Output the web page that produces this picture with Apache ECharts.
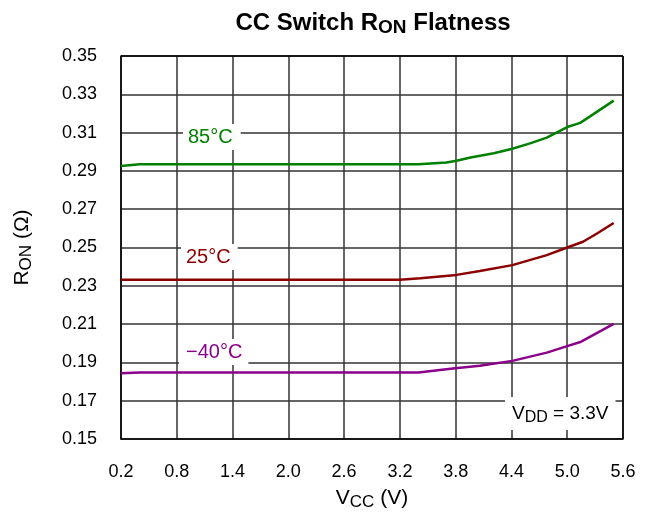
<!DOCTYPE html>
<html><head><meta charset="utf-8">
<script src="https://cdn.jsdelivr.net/npm/echarts@6/dist/echarts.min.js"></script>
<style>html,body{margin:0;padding:0;background:#fff}#c{width:653px;height:516px}</style>
</head><body><div id="c"></div>
<script>
const vcc85 = [0.2, 0.4, 1.0, 2.0, 3.0, 3.4, 3.7, 3.81, 3.96, 4.21, 4.41, 4.6, 4.78, 5.0, 5.14, 5.25, 5.5];
const r85   = [0.2925, 0.2935, 0.2935, 0.2935, 0.2935, 0.2935, 0.2944, 0.2953, 0.297, 0.2992, 0.3016, 0.3044, 0.3074, 0.3129, 0.3151, 0.3186, 0.3267];
const vcc25 = [0.2, 1.0, 2.0, 3.2, 3.42, 3.81, 4.06, 4.41, 4.78, 5.0, 5.17, 5.32, 5.5];
const r25   = [0.2332, 0.2332, 0.2332, 0.2332, 0.234, 0.2357, 0.2377, 0.2408, 0.246, 0.25, 0.253, 0.2573, 0.2628];
const vccM40 = [0.2, 0.4, 1.0, 2.0, 3.0, 3.4, 3.77, 4.06, 4.41, 4.78, 5.0, 5.15, 5.5];
const rM40   = [0.1843, 0.1847, 0.1847, 0.1847, 0.1847, 0.1847, 0.1868, 0.1882, 0.1908, 0.1951, 0.1985, 0.2008, 0.2101];
const xTicks = [0.2, 0.8, 1.4, 2.0, 2.6, 3.2, 3.8, 4.4, 5.0, 5.6];
const yTicks = [0.15, 0.17, 0.19, 0.21, 0.23, 0.25, 0.27, 0.29, 0.31, 0.33, 0.35];

const F = 'Liberation Sans, Arial, sans-serif';
const zip = (a, b) => a.map((v, i) => [v, b[i]]);
const chart = echarts.init(document.getElementById('c'));
const gridColor = '#333';
const lbl = (text, color, x, y, pad) => ({
  type: 'text', left: x, top: y, z: 10,
  style: { text, fill: color, font: '20px ' + F, backgroundColor: '#fff', padding: pad }
});
chart.setOption({
  animation: false,
  backgroundColor: '#fff',
  grid: { left: 121, right: 30, top: 56, bottom: 74 },
  xAxis: {
    type: 'value', min: 0.2, max: 5.6, interval: 0.6,
    name: 'V{sub|CC} (V)', nameLocation: 'middle', nameGap: 46,
    nameTextStyle: { fontFamily: F, fontSize: 21, color: '#000',
      rich: { sub: { fontFamily: F, fontSize: 17, color: '#000', padding: [9, 0, 0, 0] } } },
    axisLine: { show: true, lineStyle: { color: '#000', width: 1.5 } },
    axisTick: { show: false },
    axisLabel: { fontFamily: F, fontSize: 18, color: '#000', margin: 24,
      formatter: v => xTicks.find(t => Math.abs(t - v) < 1e-6).toFixed(1) },
    splitLine: { show: true, lineStyle: { color: gridColor, width: 1.5 } }
  },
  yAxis: {
    type: 'value', min: 0.15, max: 0.35, interval: 0.02,
    name: 'R{sub|ON} (Ω)', nameLocation: 'middle', nameGap: 86,
    nameTextStyle: { fontFamily: F, fontSize: 21, color: '#000',
      rich: { sub: { fontFamily: F, fontSize: 17, color: '#000', padding: [9, 0, 0, 0] } } },
    axisLine: { show: true, lineStyle: { color: '#000', width: 1.5 } },
    axisTick: { show: false },
    axisLabel: { fontFamily: F, fontSize: 18, color: '#000', margin: 24,
      formatter: v => yTicks.find(t => Math.abs(t - v) < 1e-6).toFixed(2) },
    splitLine: { show: true, lineStyle: { color: gridColor, width: 1.5 } }
  },
  series: [
    { type: 'line', data: zip(vcc85, r85), showSymbol: false,
      lineStyle: { color: '#008000', width: 2.5 }, z: 5 },
    { type: 'line', data: zip(vcc25, r25), showSymbol: false,
      lineStyle: { color: '#8b0000', width: 2.5 }, z: 5 },
    { type: 'line', data: zip(vccM40, rM40), showSymbol: false,
      lineStyle: { color: '#8b008b', width: 2.5 }, z: 5 },
    { type: 'line', data: [], markLine: { silent: true, symbol: 'none', label: { show: false },
      lineStyle: { color: '#000', width: 1.5, type: 'solid' },
      data: [{ xAxis: 5.6 }, { yAxis: 0.35 }] } }
  ],
  graphic: [
    { type: 'text', x: 373, y: 9, z: 10,
      style: { text: 'CC Switch R{sub|ON} Flatness', align: 'center', verticalAlign: 'top',
        fill: '#000', font: 'bold 24px ' + F,
        rich: { sub: { font: 'bold 19px ' + F, fill: '#000', padding: [9, 0, 0, 0] } } } },
    lbl('85°C', '#008000', 183, 124, [3, 8, 3, 5]),
    lbl('25°C', '#8b0000', 181, 244, [3, 7, 3, 5]),
    lbl('\u221240°C', '#8b008b', 179, 339, [3, 6, 3, 7]),
    { type: 'text', left: 505, top: 397, z: 10,
      style: { text: 'V{sub|DD} = 3.3V', fill: '#000', font: '19px ' + F, backgroundColor: '#fff', padding: [4, 7, 4, 7],
        rich: { sub: { font: '16px ' + F, fill: '#000', padding: [9, 0, 0, 0] } } } }
  ]
});
</script></body></html>
